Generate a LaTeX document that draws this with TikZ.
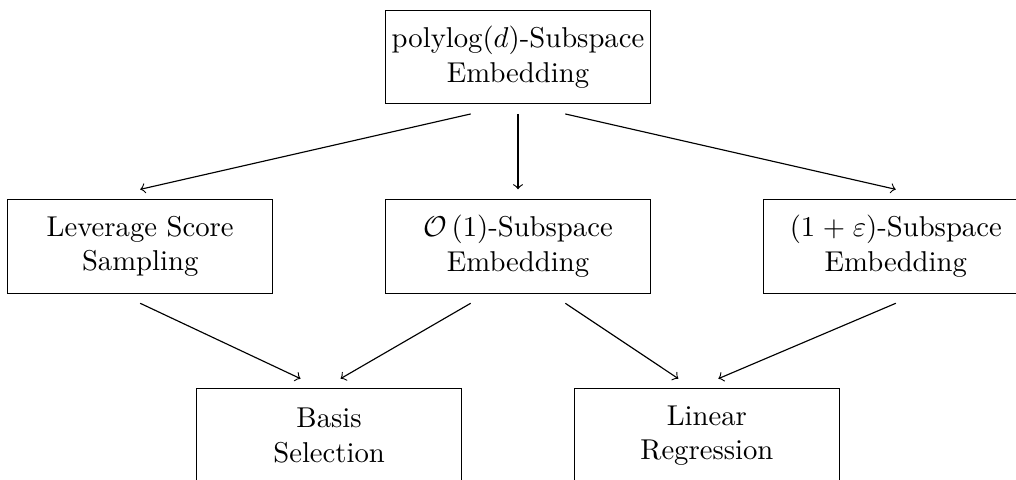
\documentclass[tikz,border=0pt]{standalone}
\usepackage{amsmath}
\usepackage{amssymb}
\usetikzlibrary{arrows,positioning,shapes,fit,calc}

\begin{document}
\begin{tikzpicture}[node distance=2.32cm and 4.63cm,on grid,auto,
    box/.style={draw,rectangle,text width=3.14cm,inner xsep=1.5pt,align=center,minimum height=1.15cm,outer sep=3.5pt}]
   \useasboundingbox (-6.348,-5.172) rectangle (6.103,0.6985);
   \node [box] (emb) {polylog$(d)$-Subspace\\Embedding};
   \node [box] (oemb) [below =of emb] {$\mathcal{O}\left(1\right)$-Subspace\\Embedding};
   \node [box] (lev) [left =of oemb] {Leverage Score\\Sampling};
   \node [box] (eemb) [right =of oemb] {$(1+\varepsilon)$-Subspace\\Embedding};
   \node [box] (basis) [below left =2.32cm and 2.315cm of oemb] {Basis\\Selection};
   \node [box] (linreg) [below right =2.32cm and 2.315cm of oemb] {Linear\\Regression};
    \path[->]
    ([xshift=-0.58cm]emb.south) edge (lev.north)
    (emb.south) edge (oemb.north)
    ([xshift=0.58cm]emb.south) edge (eemb.north)
    (lev.south) edge ([xshift=-0.35cm]basis.north)
    ([xshift=-0.58cm]oemb.south) edge ([xshift=0.14cm]basis.north)
    ([xshift=0.58cm]oemb.south) edge ([xshift=-0.35cm]linreg.north)
    (eemb.south) edge ([xshift=0.14cm]linreg.north);
\end{tikzpicture}
\end{document}
